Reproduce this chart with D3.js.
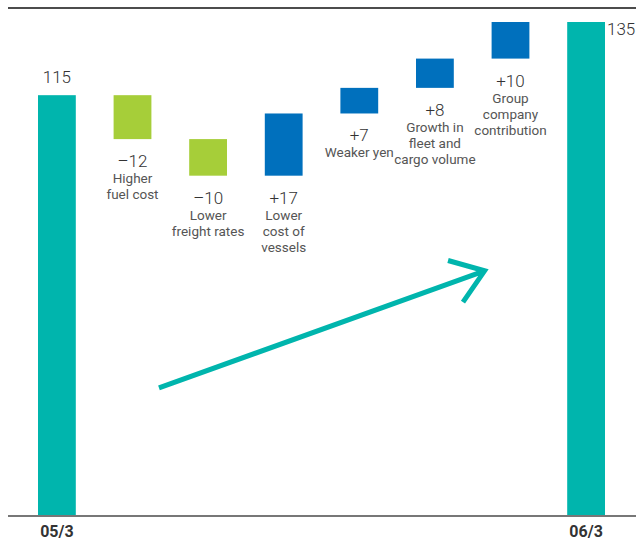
<!DOCTYPE html>
<html>
<head>
<meta charset="utf-8">
<script src="https://cdn.jsdelivr.net/npm/d3@7"></script>
<style>
  body { margin: 0; background: #fff; }
  svg { display: block; }
  text { font-family: Roboto, "Liberation Sans", sans-serif; }
  .value { font-size: 17px; fill: #333; font-weight: 300; }
  .desc { font-size: 13.5px; fill: #555; }
  .tick-label { font-size: 16px; font-weight: bold; fill: #333; }
</style>
</head>
<body>
<div class="graph"></div>
<script>
var width = 636,
    height = 540;

// waterfall steps, in order
var categories = ["05/3", "fuel", "freight", "vessels", "yen", "fleet", "group", "06/3"];
var values = [115, -12, -10, 17, 7, 8, 10, 135];
var kinds = ["total", "neg", "neg", "pos", "pos", "pos", "pos", "total"];
var valueLabels = ["115", "\u201312", "\u201310", "+17", "+7", "+8", "+10", "135"];
var descLabels = [
    [],
    ["Higher", "fuel cost"],
    ["Lower", "freight rates"],
    ["Lower", "cost of", "vessels"],
    ["Weaker yen"],
    ["Growth in", "fleet and", "cargo volume"],
    ["Group", "company", "contribution"],
    []
];
var tickLabels = ["05/3", "", "", "", "", "", "", "06/3"];

var colors = { total: "#00b5ad", neg: "#a6ce39", pos: "#0070bd" };

// running totals -> start/end of each bar
var running = 0;
var data = categories.map(function(c, i) {
    var d = { cat: c, kind: kinds[i], label: valueLabels[i], desc: descLabels[i], tick: tickLabels[i] };
    if (kinds[i] == "total") {
        d.y0 = 0;
        d.y1 = values[i];
        running = values[i];
    } else {
        d.y0 = running;
        d.y1 = running + values[i];
        running = d.y1;
    }
    d.lo = Math.min(d.y0, d.y1);
    d.hi = Math.max(d.y0, d.y1);
    return d;
});

var x = d3.scaleBand()
    .domain(categories)
    .range([38, 605])
    .paddingInner(0.5)
    .paddingOuter(0);

var y = d3.scaleLinear()
    .domain([0, 135])
    .range([516, 22]);

var svg = d3.select(".graph").append("svg")
    .attr("width", width)
    .attr("height", height);

// top rule
svg.append("line")
    .attr("x1", 8).attr("x2", width)
    .attr("y1", 8).attr("y2", 8)
    .attr("stroke", "#111")
    .attr("stroke-width", 1.5);

// bars
svg.append("g")
    .selectAll("rect")
    .data(data)
    .enter().append("rect")
    .attr("x", function(d) { return x(d.cat); })
    .attr("y", function(d) { return y(d.hi); })
    .attr("width", x.bandwidth())
    .attr("height", function(d) { return y(d.lo) - y(d.hi); })
    .attr("fill", function(d) { return colors[d.kind]; });

// baseline
svg.append("line")
    .attr("x1", 8).attr("x2", width)
    .attr("y1", y(0)).attr("y2", y(0))
    .attr("stroke", "#777")
    .attr("stroke-width", 2);

// value labels
var steps = data.filter(function(d) { return d.kind != "total"; });

svg.append("g")
    .selectAll("text")
    .data(steps)
    .enter().append("text")
    .attr("class", "value")
    .attr("x", function(d) { return x(d.cat) + x.bandwidth() / 2; })
    .attr("y", function(d) { return y(d.lo) + 28; })
    .attr("text-anchor", "middle")
    .text(function(d) { return d.label; });

var desc = svg.append("g")
    .selectAll("text")
    .data(steps)
    .enter().append("text")
    .attr("class", "desc")
    .attr("text-anchor", "middle");

desc.selectAll("tspan")
    .data(function(d) {
        return d.desc.map(function(t, i) { return { t: t, i: i, d: d }; });
    })
    .enter().append("tspan")
    .attr("x", function(o) { return x(o.d.cat) + x.bandwidth() / 2; })
    .attr("y", function(o) { return y(o.d.lo) + 44 + o.i * 16; })
    .text(function(o) { return o.t; });

// totals
var first = data[0], last = data[data.length - 1];
svg.append("text")
    .attr("class", "value")
    .attr("x", x(first.cat) + x.bandwidth() / 2)
    .attr("y", y(first.hi) - 12)
    .attr("text-anchor", "middle")
    .text(first.label);

svg.append("text")
    .attr("class", "value")
    .attr("x", x(last.cat) + x.bandwidth() + 2)
    .attr("y", y(last.hi) + 13)
    .text(last.label);

// x tick labels
svg.append("g")
    .selectAll("text")
    .data(data.filter(function(d) { return d.tick; }))
    .enter().append("text")
    .attr("class", "tick-label")
    .attr("x", function(d) { return x(d.cat) + x.bandwidth() / 2; })
    .attr("y", 537)
    .attr("text-anchor", "middle")
    .text(function(d) { return d.tick; });

// growth arrow
var ax0 = x(categories[1]) + x.bandwidth() * 1.2, ay0 = y(35),
    ax1 = x(categories[6]) - 7, ay1 = y(67);
var ang = Math.atan2(ay1 - ay0, ax1 - ax0), head = 38, spread = 0.62;

svg.append("path")
    .attr("d", "M" + ax0 + "," + ay0 + "L" + ax1 + "," + ay1 +
        "M" + (ax1 - head * Math.cos(ang - spread)) + "," + (ay1 - head * Math.sin(ang - spread)) +
        "L" + ax1 + "," + ay1 +
        "L" + (ax1 - head * Math.cos(ang + spread)) + "," + (ay1 - head * Math.sin(ang + spread)))
    .attr("fill", "none")
    .attr("stroke", colors.total)
    .attr("stroke-width", 5);
</script>
</body>
</html>
